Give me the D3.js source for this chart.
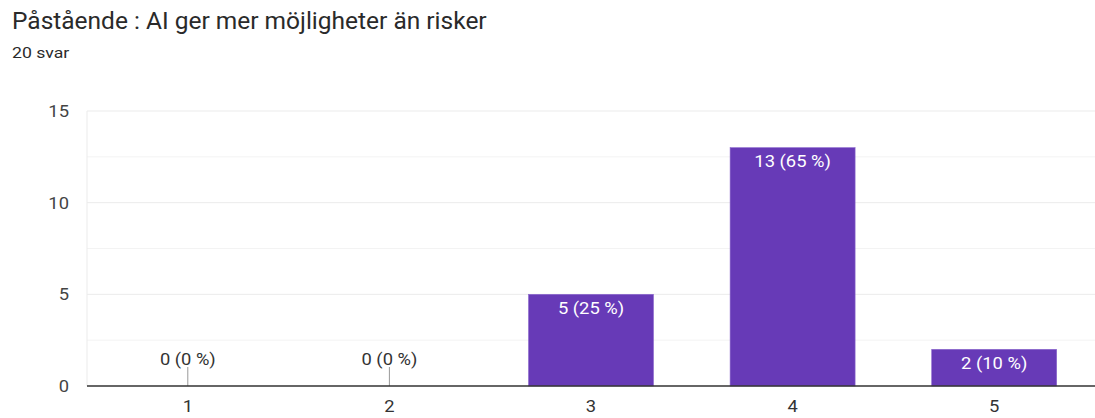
<!DOCTYPE html>
<html>
<head>
<meta charset="utf-8">
<script src="https://cdn.jsdelivr.net/npm/d3@7"></script>
<style>
  html, body { margin: 0; padding: 0; background: #fff; }
  svg { display: block; font-family: Roboto, Arial, sans-serif; }
</style>
</head>
<body>
<svg id="chart" width="1095" height="418"></svg>
<script>
// Survey answers: scale 1–5
const categories = ["1", "2", "3", "4", "5"];
const counts = [0, 0, 5, 13, 2];
const percents = [0, 0, 25, 65, 10];
const yTicks = [0, 5, 10, 15];
const yMinorTicks = [2.5, 7.5, 12.5];
const title = "Påstående : AI ger mer möjligheter än risker";
const subtitle = "20 svar";

const svg = d3.select("#chart");
const plotLeft = 87, plotRight = 1095, plotTop = 111, plotBottom = 386;
const stretch = 1.08; // slightly wide lettering

const x = d3.scaleBand().domain(categories).range([plotLeft, plotRight])
  .paddingInner(0.38).paddingOuter(0.19);
const y = d3.scaleLinear().domain([0, 15]).range([plotBottom, plotTop]);

// place a text at (px, py) with horizontal stretch about its anchor
function label(g, px, py, str, size, fill, anchor, sx) {
  return g.append("text")
    .attr("transform", `translate(${px},${py}) scale(${sx},1)`)
    .attr("text-anchor", anchor || "start")
    .attr("font-size", size).attr("fill", fill).text(str);
}

label(svg, 12, 29, title, 23, "#2a2a2a", "start", 1.065);
label(svg, 12, 58, subtitle, 15.5, "#2a2a2a", "start", 1.14);

// gridlines
const grid = svg.append("g");
grid.selectAll("line.minor").data(yMinorTicks).join("line")
  .attr("class", "minor")
  .attr("x1", plotLeft).attr("x2", plotRight)
  .attr("y1", d => y(d)).attr("y2", d => y(d))
  .attr("stroke", "#f3f3f3").attr("stroke-width", 1);
grid.selectAll("line.major").data(yTicks.filter(d => d > 0)).join("line")
  .attr("class", "major")
  .attr("x1", plotLeft).attr("x2", plotRight)
  .attr("y1", d => y(d)).attr("y2", d => y(d))
  .attr("stroke", "#ebebeb").attr("stroke-width", 1);
grid.append("line").attr("x1", plotLeft).attr("x2", plotLeft)
  .attr("y1", y(15)).attr("y2", y(0))
  .attr("stroke", "#ebebeb").attr("stroke-width", 1);

// y-axis labels
const yAxis = svg.append("g").attr("transform", `translate(${plotLeft - 18},0)`)
  .call(d3.axisLeft(y).tickValues(yTicks).tickSize(0).tickPadding(0));
yAxis.select(".domain").remove();
yAxis.selectAll("text").attr("font-size", 17).attr("fill", "#444")
  .attr("font-family", "Roboto, Arial, sans-serif")
  .attr("transform", `scale(${stretch},1)`);

// bars
const data = categories.map((c, i) => ({ c, v: counts[i], p: percents[i] }));
svg.append("g").selectAll("rect").data(data.filter(d => d.v > 0)).join("rect")
  .attr("x", d => x(d.c)).attr("width", x.bandwidth())
  .attr("y", d => y(d.v)).attr("height", d => y(0) - y(d.v))
  .attr("fill", "#673ab7").attr("stroke", "#8a66cc").attr("stroke-width", 0.6);

// value labels inside bars
const valG = svg.append("g");
data.filter(d => d.v > 0).forEach(d => {
  label(valG, x(d.c) + x.bandwidth() / 2, y(d.v) + 19.5, `${d.v} (${d.p} %)`,
    17, "#fff", "middle", stretch);
});

// zero-value stems and labels
const zeros = data.filter(d => d.v === 0);
svg.append("g").selectAll("line").data(zeros).join("line")
  .attr("x1", d => x(d.c) + x.bandwidth() / 2).attr("x2", d => x(d.c) + x.bandwidth() / 2)
  .attr("y1", y(0)).attr("y2", y(0) - 19)
  .attr("stroke", "#999").attr("stroke-width", 1);
const zeroG = svg.append("g");
zeros.forEach(d => {
  label(zeroG, x(d.c) + x.bandwidth() / 2, y(0) - 21.5, `${d.v} (${d.p} %)`,
    17, "#333", "middle", stretch);
});

// baseline
svg.append("line").attr("x1", plotLeft).attr("x2", plotRight)
  .attr("y1", y(0)).attr("y2", y(0))
  .attr("stroke", "#333").attr("stroke-width", 1.5);

// x-axis labels
const xAxis = svg.append("g").attr("transform", `translate(0,${plotBottom})`)
  .call(d3.axisBottom(x).tickSize(0).tickPadding(14));
xAxis.select(".domain").remove();
xAxis.selectAll("text").attr("font-size", 17).attr("fill", "#333")
  .attr("font-family", "Roboto, Arial, sans-serif")
  .attr("transform", `scale(${stretch},1)`);
</script>
</body>
</html>
